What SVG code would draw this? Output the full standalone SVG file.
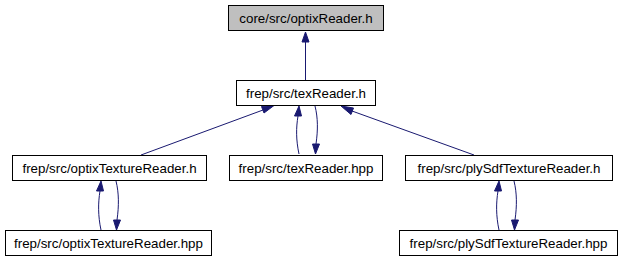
<svg xmlns="http://www.w3.org/2000/svg" width="620" height="261" viewBox="0 0 620 261">
  <style>
    .box { fill: #ffffff; stroke: #000000; stroke-width: 1; }
    .root { fill: #bfbfbf; stroke: #000000; stroke-width: 1; }
    .lbl { font-family: "Liberation Sans", Arial, sans-serif; font-size: 13.33px; fill: #000000; text-anchor: middle; }
    .edge { fill: none; stroke: #191970; stroke-width: 1; }
    .head { fill: #191970; stroke: #191970; stroke-width: 1; }
  </style>
  <rect width="620" height="261" fill="#ffffff"/>

  <g id="edges">
    <!-- texReader.h -> optixReader.h -->
    <path class="edge" d="M305.5,80 L305.5,42"/>
    <polygon class="head" points="302,42 305.5,32 309,42"/>
    <!-- optixTextureReader.h -> texReader.h -->
    <path class="edge" d="M141,155 L263,110"/>
    <polygon class="head" points="261.5,106.5 274,105.5 264,113"/>
    <!-- plySdfTextureReader.h -> texReader.h -->
    <path class="edge" d="M474,155 L352,111"/>
    <polygon class="head" points="351,114.5 341,106 353.5,108"/>
    <!-- texReader.hpp -> texReader.h -->
    <path class="edge" d="M299,154 C296,140 296,128 298,116"/>
    <polygon class="head" points="294.5,116 299,106 301.5,116"/>
    <!-- texReader.h -> texReader.hpp -->
    <path class="edge" d="M315,106 C318,118 318,130 316,144"/>
    <polygon class="head" points="312.5,144 315.5,154 319.5,144"/>
    <!-- optixTextureReader.hpp -> optixTextureReader.h -->
    <path class="edge" d="M101,230 C98,216 98,203 100,191"/>
    <polygon class="head" points="96.5,191 101,181 103.5,191"/>
    <!-- optixTextureReader.h -> optixTextureReader.hpp -->
    <path class="edge" d="M116,181 C119,193 119,206 117,220"/>
    <polygon class="head" points="113.5,220 116.5,230 120.5,220"/>
    <!-- plySdfTextureReader.hpp -> plySdfTextureReader.h -->
    <path class="edge" d="M499,230 C496,216 496,203 498,191"/>
    <polygon class="head" points="494.5,191 499,181 501.5,191"/>
    <!-- plySdfTextureReader.h -> plySdfTextureReader.hpp -->
    <path class="edge" d="M514,181 C517,193 517,206 515,220"/>
    <polygon class="head" points="511.5,220 514.5,230 518.5,220"/>
  </g>

  <g id="node-optixReader-h">
    <rect class="root" x="228.5" y="5.5" width="155" height="25"/>
    <text class="lbl" x="306" y="22.5">core/src/optixReader.h</text>
  </g>
  <g id="node-texReader-h">
    <rect class="box" x="236.5" y="80.5" width="139" height="25"/>
    <text class="lbl" x="306" y="97.5">frep/src/texReader.h</text>
  </g>
  <g id="node-texReader-hpp">
    <rect class="box" x="229.5" y="155.5" width="153" height="25"/>
    <text class="lbl" x="306" y="172.5">frep/src/texReader.hpp</text>
  </g>
  <g id="node-optixTextureReader-h">
    <rect class="box" x="12.5" y="155.5" width="194" height="25"/>
    <text class="lbl" x="109.5" y="172.5">frep/src/optixTextureReader.h</text>
  </g>
  <g id="node-optixTextureReader-hpp">
    <rect class="box" x="5.5" y="230.5" width="206" height="25"/>
    <text class="lbl" x="108.5" y="247.5">frep/src/optixTextureReader.hpp</text>
  </g>
  <g id="node-plySdfTextureReader-h">
    <rect class="box" x="405.5" y="155.5" width="207" height="25"/>
    <text class="lbl" x="509" y="172.5">frep/src/plySdfTextureReader.h</text>
  </g>
  <g id="node-plySdfTextureReader-hpp">
    <rect class="box" x="399.5" y="230.5" width="218" height="25"/>
    <text class="lbl" x="508.5" y="247.5">frep/src/plySdfTextureReader.hpp</text>
  </g>
</svg>
